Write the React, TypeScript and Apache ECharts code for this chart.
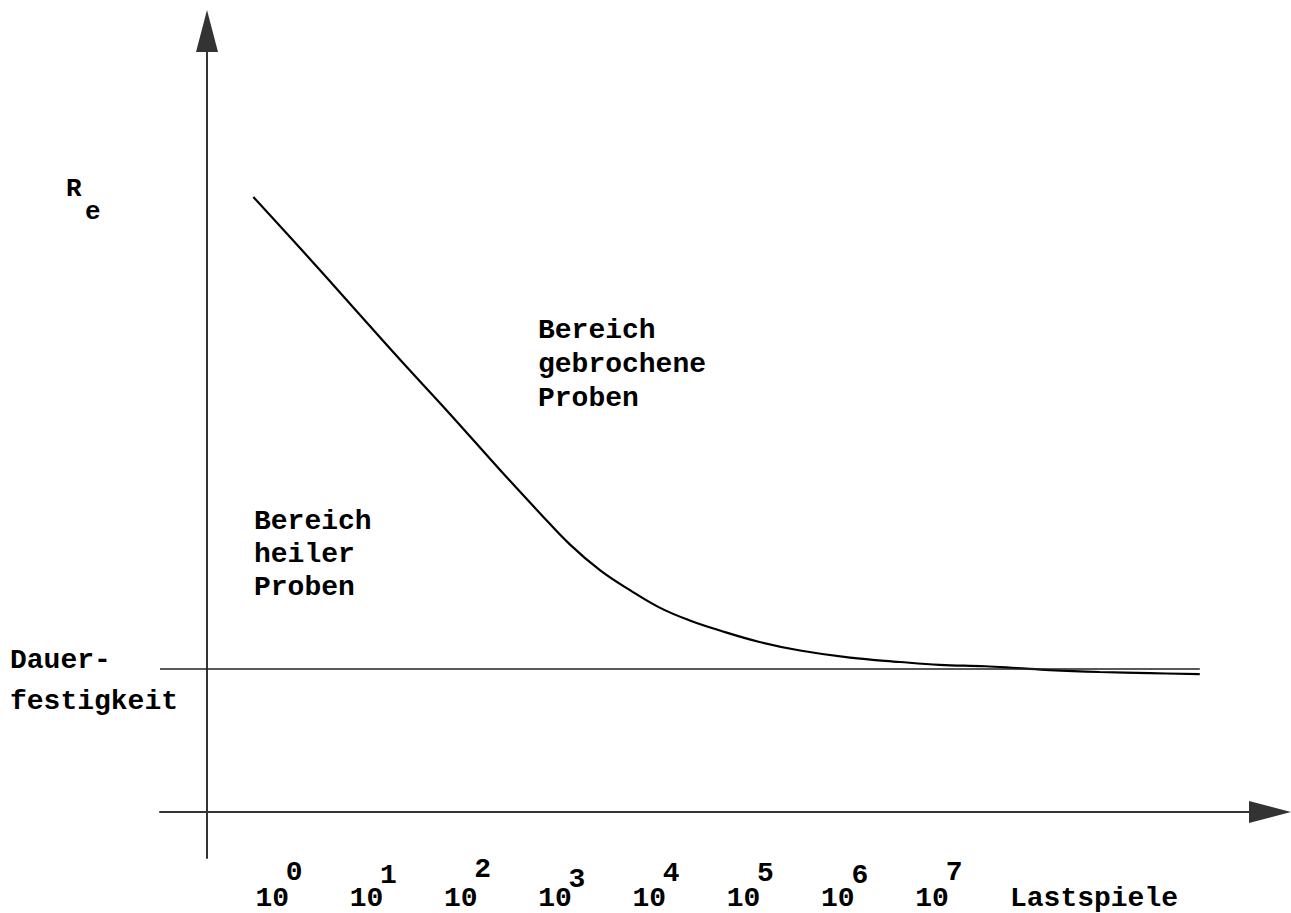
import React, { useEffect, useRef } from "react";
import * as echarts from "echarts";

// ---- data (x = log10 of load cycles, y = stress in arbitrary units) ----
const X_MIN = -1.19;
const X_MAX = 10.585;
const Y_MIN = -32;
const Y_MAX = 546;
const EXPONENTS = [0, 1, 2, 3, 4, 5, 6, 7];
const TICK_BASE = "10";
const ENDURANCE = 100;
const CURVE_X = [-0.2, 0.3, 0.83, 1.36, 1.89, 2.42, 2.84, 3.16, 3.48, 3.8, 4.11, 4.43, 4.75, 5.17, 5.6, 6.13, 6.66, 7.08, 7.56, 7.9, 8.25, 8.78, 9.31, 9.84];
const CURVE_Y = [430, 394, 355, 316, 278, 239, 209, 187, 169, 155, 143, 134, 127, 119, 113, 108, 105, 103, 102, 100.7, 99.3, 98, 97.2, 96.5];
const X_LABEL = "Lastspiele";
const Y_LABEL = "R";
const Y_LABEL_SUB = "e";
const ENDURANCE_LABEL = ["Dauer-", "festigkeit"];
const FRACTURE_LABEL = ["Bereich", "gebrochene", "Proben"];
const SAFE_LABEL = ["Bereich", "heiler", "Proben"];

// ---- styling ----
const FONT = '"Liberation Mono", "DejaVu Sans Mono", monospace';
const FS = 28;
const SUP_DROP = [6, 9, 3, 13, 7, 7, 9, 6];
const AXIS_COLOR = "#333";

const txt = (extra: any) => ({
  fontFamily: FONT,
  fontSize: FS,
  fontWeight: "bold",
  fill: "#000",
  ...extra,
});

export default function App() {
  const ref = useRef<HTMLDivElement>(null);
  useEffect(() => {
    const chart = echarts.init(ref.current!, null, { renderer: "svg" });
    const rich: any = {};
    EXPONENTS.forEach((e, i) => {
      rich["s" + i] = {
        fontFamily: FONT,
        fontSize: FS,
        fontWeight: "bold",
        color: "#000",
        padding: [SUP_DROP[i], 0, 0, 44],
      };
    });
    const axisLineStyle = { color: AXIS_COLOR, width: 2 };
    chart.setOption({
      animation: false,
      backgroundColor: "#fff",
      grid: { left: 160, right: 21, top: 31, bottom: 55, containLabel: false, outerBoundsMode: "none" },
      xAxis: [
        {
          type: "value",
          position: "bottom",
          min: X_MIN,
          max: X_MAX,
          offset: -46,
          axisLine: { show: true, onZero: false, symbol: ["none", "triangle"], symbolSize: [22, 42], lineStyle: axisLineStyle },
          axisTick: { show: false },
          splitLine: { show: false },
          axisLabel: {
            customValues: EXPONENTS,
            formatter: () => TICK_BASE,
            margin: 72,
            fontFamily: FONT,
            fontSize: FS,
            fontWeight: "bold",
            color: "#000",
          },
        },
        {
          type: "value",
          position: "bottom",
          min: X_MIN,
          max: X_MAX,
          offset: -46,
          axisLine: { show: false, onZero: false },
          axisTick: { show: false },
          splitLine: { show: false },
          axisLabel: {
            customValues: EXPONENTS,
            formatter: (v: number) => `{s${EXPONENTS.indexOf(Math.round(v))}|${Math.round(v)}}`,
            margin: 40,
            rich,
          },
        },
      ],
      yAxis: {
        type: "value",
        min: Y_MIN,
        max: Y_MAX,
        offset: -47,
        axisLine: { show: true, onZero: false, symbol: ["none", "triangle"], symbolSize: [22, 42], lineStyle: axisLineStyle },
        axisTick: { show: false },
        splitLine: { show: false },
        axisLabel: { show: false },
      },
      series: [
        {
          type: "line",
          xAxisIndex: 0,
          data: CURVE_X.map((x, i) => [x, CURVE_Y[i]]),
          smooth: 0.4,
          showSymbol: false,
          symbol: "none",
          clip: false,
          lineStyle: { color: "#000", width: 2.2 },
          markLine: {
            silent: true,
            symbol: "none",
            label: { show: false },
            lineStyle: { color: "#222", width: 1.5, type: "solid" },
            data: [[{ coord: [X_MIN, ENDURANCE] }, { coord: [CURVE_X[CURVE_X.length - 1], ENDURANCE] }]],
          },
        },
      ],
      graphic: [
        { type: "text", x: 66, y: 189, style: txt({ text: Y_LABEL, fontSize: 26, verticalAlign: "middle" }) },
        { type: "text", x: 85, y: 212, style: txt({ text: Y_LABEL_SUB, fontSize: 26, verticalAlign: "middle" }) },
        { type: "text", x: 10, y: 640, style: txt({ text: ENDURANCE_LABEL.join("\n"), lineHeight: 41, verticalAlign: "top" }) },
        { type: "text", x: 538, y: 313, style: txt({ text: FRACTURE_LABEL.join("\n"), lineHeight: 34, verticalAlign: "top" }) },
        { type: "text", x: 254, y: 505, style: txt({ text: SAFE_LABEL.join("\n"), lineHeight: 33, verticalAlign: "top" }) },
        { type: "text", x: 1010, y: 898, style: txt({ text: X_LABEL, verticalAlign: "middle" }) },
      ],
    });
    return () => chart.dispose();
  }, []);
  return <div ref={ref} style={{ position: "fixed", left: 0, top: 0, width: 1291, height: 913 }} />;
}
